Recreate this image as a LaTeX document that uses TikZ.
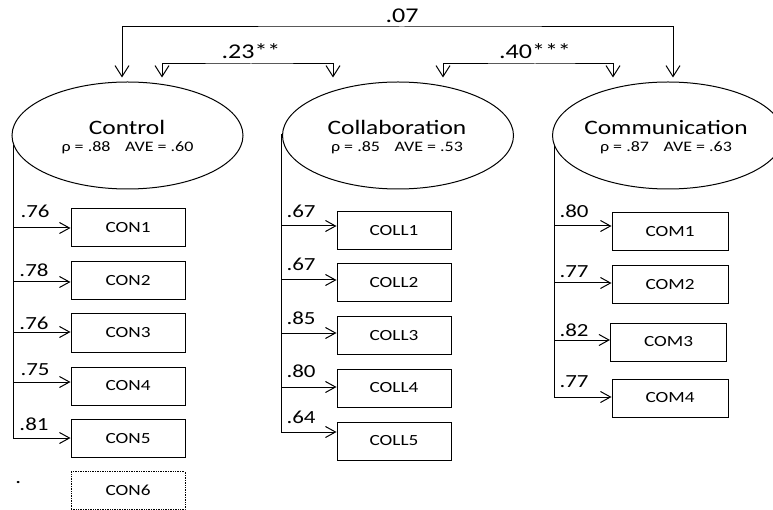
\documentclass[tikz,border=0pt]{standalone}
\usepackage{fontspec}
\setmainfont{Carlito}[FakeStretch=1.24]
\usetikzlibrary{arrows.meta,shapes.geometric}

\begin{document}
\begin{tikzpicture}[x=1pt,y=-1pt,line width=1pt,
	latent/.style={draw,ellipse,minimum width=231pt,minimum height=107pt,inner sep=0pt},
	item/.style={draw,minimum width=114pt,minimum height=38pt,inner sep=0pt,font=\fontsize{15.5}{18}\selectfont},
	lvname/.style={anchor=base,inner sep=0pt,font=\fontsize{20.5}{24}\selectfont},
	stat/.style={anchor=base,inner sep=0pt,font=\fontsize{14.5}{17}\selectfont},
	coef/.style={anchor=base,inner sep=0pt,font=\fontsize{21}{25}\selectfont},
	ld/.style={anchor=base west,inner sep=0pt,font=\fontsize{18.5}{22}\selectfont},
	load/.style={-{Straight Barb[length=10pt,width=11pt]}},
	corr/.style={{Straight Barb[length=11pt,width=14pt]}-{Straight Barb[length=11pt,width=14pt]}}]
		\useasboundingbox (0,0) rectangle (773,510);
		\node[latent] (ctrl) at (127.5,135.5) {};
		\node[latent] (coll) at (398,135.5) {};
		\node[latent] (comm) at (668,135.5) {};
		\node[lvname] (ctrl-n) at (127,135) {Control};
		\node[stat] (ctrl-s) at (127.5,152) {ρ = .88\quad AVE = .60};
		\node[lvname] (coll-n) at (397,135) {Collaboration};
		\node[stat] (coll-s) at (397,152) {ρ = .85\quad AVE = .53};
		\node[lvname] (comm-n) at (666,135) {Communication};
		\node[stat] (comm-s) at (666,152) {ρ = .87\quad AVE = .63};

		\node[coef] (r07) at (402,23) {.07};
		\node[coef] (r23) at (251,59) {.23**};
		\node[coef] (r40) at (535,59) {.40***};
		\draw[corr] ([shift={(-5.5,-4)}]ctrl.north) |- ([yshift=-4pt]r07.base) -| ([shift={(5,-4)}]comm.north);
		\draw[corr] ([shift={(34.5,-4)}]ctrl.north) |- ([yshift=-5pt]r23.base) -| ([shift={(-65,-4)}]coll.north);
		\draw[corr] ([shift={(45,-4)}]coll.north) |- ([yshift=-5pt]r40.base) -| ([shift={(-55,-4)}]comm.north);

		\node[item] (con1) at (128,228) {CON1};
		\node[item] (con2) at (128,280.5) {CON2};
		\node[item] (con3) at (128,333) {CON3};
		\node[item] (con4) at (128,386) {CON4};
		\node[item] (con5) at (128,438.5) {CON5};
		\node[item,densely dotted,line width=0.7pt] (con6) at (128,490.5) {CON6};
		\coordinate (ctrl-t) at (13,145);
		\draw (ctrl-t) -- (ctrl-t |- 0,438);
		\draw[load] (ctrl-t |- 0,228) -- (con1.west |- 0,228);
		\draw[load] (ctrl-t |- 0,282) -- (con2.west |- 0,282);
		\draw[load] (ctrl-t |- 0,332) -- (con3.west |- 0,332);
		\draw[load] (ctrl-t |- 0,382) -- (con4.west |- 0,382);
		\draw[load] (ctrl-t |- 0,438) -- (con5.west |- 0,438);
		\node[ld] (l-con1) at (20,218) {.76};
		\node[ld] (l-con2) at (19,277) {.78};
		\node[ld] (l-con3) at (19,329) {.76};
		\node[ld] (l-con4) at (20,375) {.75};
		\node[ld] (l-con5) at (19,430) {.81};
		\node[ld] (dot) at (15,483) {.};

		\node[item] (coll1) at (394,230.5) {COLL1};
		\node[item] (coll2) at (394,283) {COLL2};
		\node[item] (coll3) at (394,335.5) {COLL3};
		\node[item] (coll4) at (394,388) {COLL4};
		\node[item] (coll5) at (394,441) {COLL5};
		\coordinate (coll-t) at (281,134);
		\draw (coll-t) -- (coll-t |- 0,432);
		\draw[load] (coll-t |- 0,226) -- (coll1.west |- 0,226);
		\draw[load] (coll-t |- 0,280) -- (coll2.west |- 0,280);
		\draw[load] (coll-t |- 0,333) -- (coll3.west |- 0,333);
		\draw[load] (coll-t |- 0,387) -- (coll4.west |- 0,387);
		\draw[load] (coll-t |- 0,432) -- (coll5.west |- 0,432);
		\node[ld] (l-coll1) at (286,218) {.67};
		\node[ld] (l-coll2) at (286,271) {.67};
		\node[ld] (l-coll3) at (286,324) {.85};
		\node[ld] (l-coll4) at (286,377) {.80};
		\node[ld] (l-coll5) at (286,423) {.64};

		\node[item,minimum width=116pt] (com1) at (670,232) {COM1};
		\node[item,minimum width=116pt] (com2) at (670,284.5) {COM2};
		\node[item,minimum width=116pt] (com3) at (668.5,342) {COM3};
		\node[item,minimum width=116pt] (com4) at (670,398) {COM4};
		\coordinate (comm-t) at (554,145);
		\draw (comm-t) -- (comm-t |- 0,397);
		\draw[load] (comm-t |- 0,226) -- (com1.west |- 0,226);
		\draw[load] (comm-t |- 0,283) -- (com2.west |- 0,283);
		\draw[load] (comm-t |- 0,340) -- (com3.west |- 0,340);
		\draw[load] (comm-t |- 0,397) -- (com4.west |- 0,397);
		\node[ld] (l-com1) at (559,218) {.80};
		\node[ld] (l-com2) at (559,278) {.77};
		\node[ld] (l-com3) at (559,336) {.82};
		\node[ld] (l-com4) at (559,387) {.77};
\end{tikzpicture}
\end{document}
